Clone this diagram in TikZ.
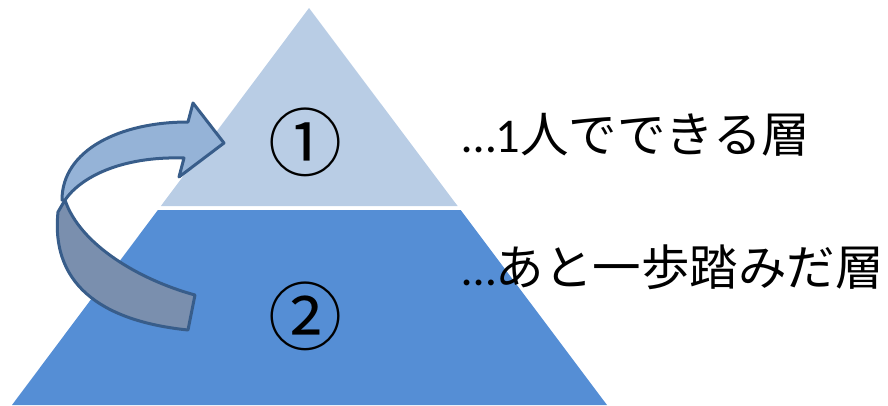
\documentclass[tikz,border=0pt]{standalone}
\usepackage{fontspec}
\setmainfont{Carlito}
\newfontfamily\jpfont{Noto Sans CJK JP}
\usetikzlibrary{calc}

\definecolor{topblue}{HTML}{B9CDE5}
\definecolor{lowblue}{HTML}{558ED5}
\definecolor{bandtop}{HTML}{95B3D7}
\definecolor{bandlow}{HTML}{7A8FAE}
\definecolor{rim}{HTML}{385D8A}

\tikzset{
  layernum/.style={inner sep=0pt, font=\jpfont\fontsize{74}{74}\selectfont},
  layertext/.style={inner sep=0pt, anchor=base west, font=\fontsize{48.5}{52}\selectfont},
  band/.style={draw=rim, line width=3pt, line join=round}
}

\begin{document}
\begin{tikzpicture}[x=1pt, y=-1pt]
    \useasboundingbox (0,0) rectangle (888,405);
    \coordinate (A) at (309,8);
    \coordinate (L) at (12,405);
    \coordinate (R) at (607,405);

    % pyramid
    \fill[topblue] (A) -- ($(A)!0.499!(L)$) -- ($(A)!0.499!(R)$) -- cycle;
    \fill[lowblue] ($(A)!0.509!(L)$) -- ($(A)!0.509!(R)$) -- (R) -- (L) -- cycle;

    % turning arrow
    \draw[band, fill=bandlow] (65,200) .. controls (80,245) and (140,280) .. (195,295)
        -- (188,330) .. controls (110,322) and (50,290) .. (58,212) -- cycle;
    \draw[band, fill=bandtop] (62,200) .. controls (62,150) and (120,122) .. (188,122)
        -- (193,103) -- (224,143) -- (179,177) -- (184,158)
        .. controls (120,156) and (80,178) .. (65,200) -- cycle;

    \node[layernum] (n1) at (305,142) {①};
    \node[layernum] (n2) at (305,316) {②};

    \node[layertext] (t1) at (462,152) {…1{\jpfont 人でできる層}};
    \node[layertext] (t2) at (462,285) {…{\jpfont あと一歩踏みだ層}};
\end{tikzpicture}
\end{document}
